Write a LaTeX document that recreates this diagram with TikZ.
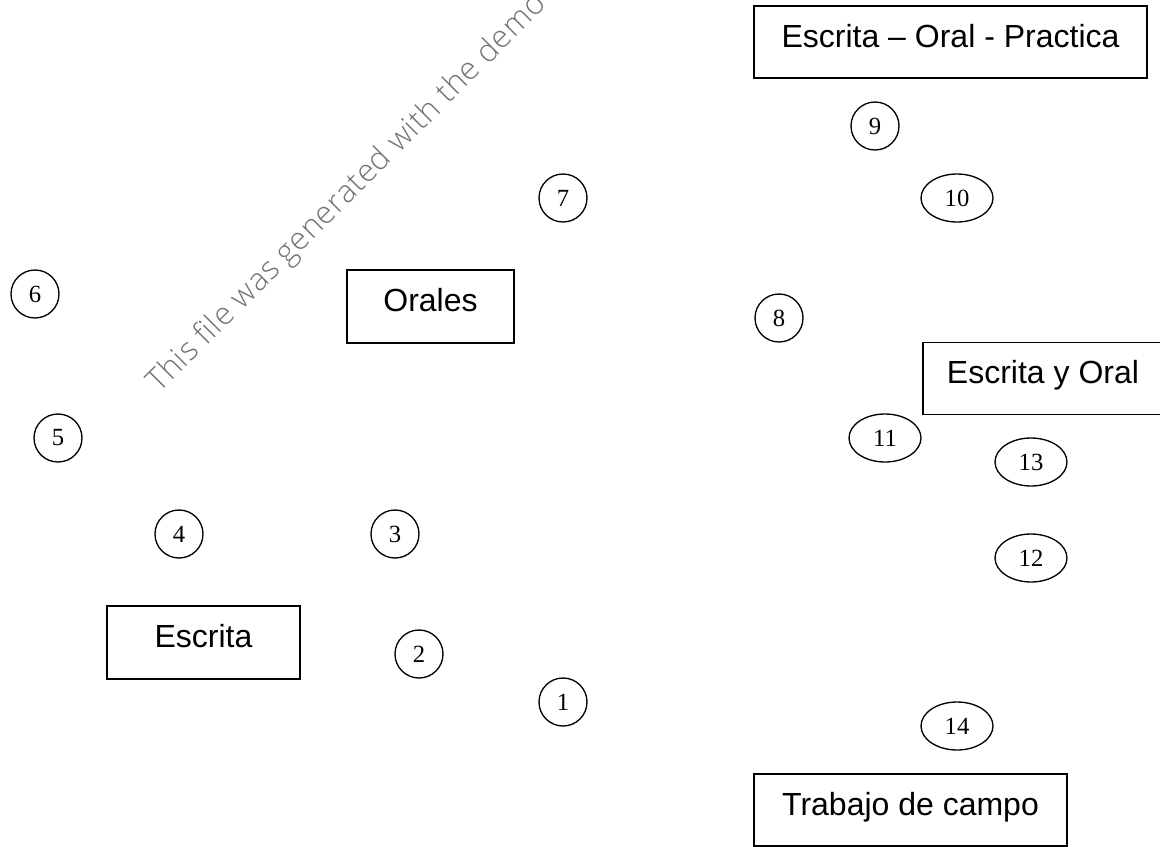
\documentclass[tikz,border=0pt]{standalone}
\usepackage{fontspec}
\usetikzlibrary{shapes.geometric}
\setmainfont{Liberation Serif}
\newfontfamily\boxfont{Liberation Sans}
\newfontfamily\markfont{Open Sans}[UprightFont=* Light,LetterSpace=2.0]
\tikzset{
  tbox/.style={draw=black,line width=1pt,rectangle,inner sep=0pt,font=\boxfont\fontsize{24pt}{26pt}\selectfont,text height=16pt,text depth=8.5pt},
  num/.style={draw=black,line width=1pt,circle,inner sep=0pt,minimum size=36pt,font=\fontsize{18.5pt}{20pt}\selectfont},
  numw/.style={draw=black,line width=1pt,ellipse,inner sep=0pt,minimum width=54pt,minimum height=36pt,font=\fontsize{18.5pt}{20pt}\selectfont}
}
\begin{document}
\begin{tikzpicture}[x=0.75pt,y=-0.75pt]
\useasboundingbox (0,0) rectangle (1160,846);
\begin{scope}
\clip (0,0) rectangle (1160,846);
\node[rotate=45,anchor=base west,text=black!55,font=\markfont\fontsize{23.5pt}{26pt}\selectfont,inner sep=0pt] (wm) at (159,394) {This file was generated with the demo};
\node[tbox,minimum width=294.75pt,minimum height=54pt] (eop) at (950.5,42) {Escrita – Oral - Practica};
\node[tbox,minimum width=125.25pt,minimum height=54.75pt] (orales) at (430.5,306.5) {Orales};
\node[tbox,minimum width=180pt,minimum height=54pt] (eo) at (1043,378.5) {Escrita y Oral};
\node[tbox,minimum width=144.75pt,minimum height=54.75pt] (esc) at (203.5,642.5) {Escrita};
\node[tbox,minimum width=234.75pt,minimum height=54pt] (tc) at (910.5,810) {Trabajo de campo};
\node[num] (n1) at (563,702) {1};
\node[num] (n2) at (419,654) {2};
\node[num] (n3) at (395,534) {3};
\node[num] (n4) at (179,534) {4};
\node[num] (n5) at (58,438) {5};
\node[num] (n6) at (35,294) {6};
\node[num] (n7) at (563,198) {7};
\node[num] (n8) at (779,318) {8};
\node[num] (n9) at (875,126) {9};
\node[numw] (n10) at (957,198) {10};
\node[numw] (n11) at (885,438) {11};
\node[numw] (n12) at (1031,558) {12};
\node[numw] (n13) at (1031,462) {13};
\node[numw] (n14) at (957,726) {14};
\end{scope}
\end{tikzpicture}
\end{document}
